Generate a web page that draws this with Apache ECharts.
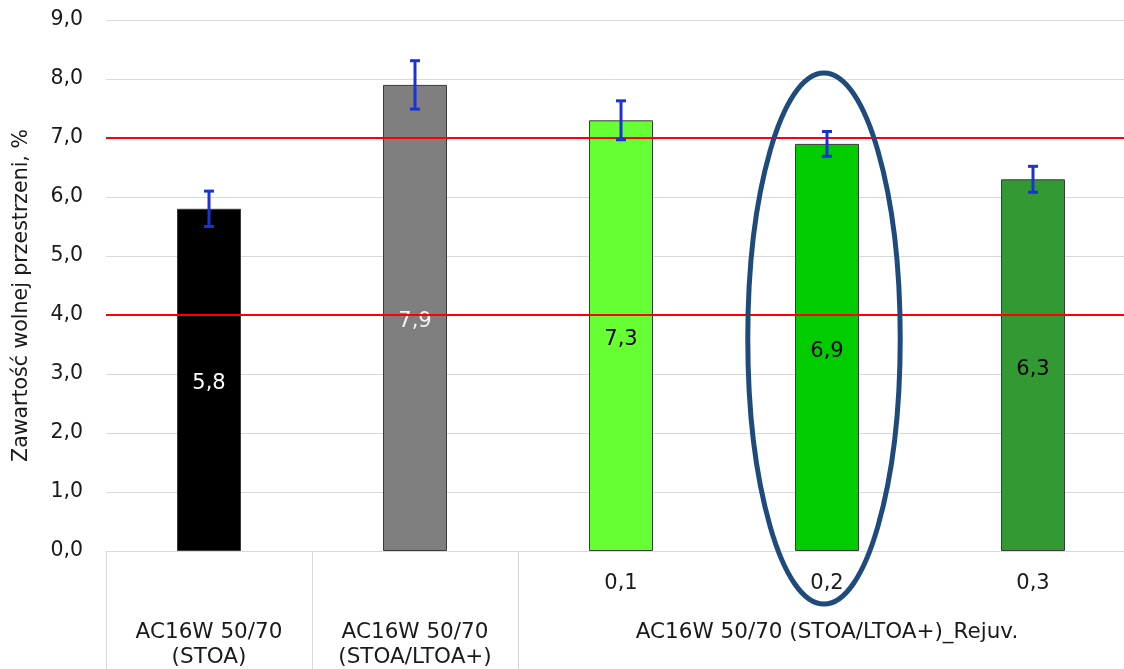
<!DOCTYPE html>
<html>
<head>
<meta charset="utf-8">
<script src="https://cdn.jsdelivr.net/npm/echarts@6/dist/echarts.min.js"></script>
<style>
  html, body { margin: 0; padding: 0; background: #fff; }
  #chart { width: 1124px; height: 669px; }
</style>
</head>
<body>
<div id="chart"></div>
<script>
// Air void content of AC16W 50/70 mixes (STOA, STOA/LTOA+ and rejuvenated variants)
const categories = ['STOA', 'STOA/LTOA+', 'Rejuv 0,1', 'Rejuv 0,2', 'Rejuv 0,3'];
const subLabels = ['', '', '0,1', '0,2', '0,3'];
const groupLabels = ['AC16W 50/70\n(STOA)', 'AC16W 50/70\n(STOA/LTOA+)', '', 'AC16W 50/70 (STOA/LTOA+)_Rejuv.', ''];
const voidContent = [5.8, 7.9, 7.3, 6.9, 6.3];
const stdDev = [0.3, 0.41, 0.33, 0.21, 0.22];
const barColors = ['#000000', '#7f7f7f', '#66ff33', '#00cc00', '#339933'];
const labelColors = ['#ffffff', '#f2f2f2', '#000000', '#000000', '#000000'];
const limitLines = [7.0, 4.0];
const yTicks = [0, 1, 2, 3, 4, 5, 6, 7, 8, 9];

// highlighted category and its ring extent (value units / category fraction)
const ringCategory = 3;
const ringTop = 8.1;
const ringBottom = -0.9;
const ringWidthFrac = 0.74;

const FONT = 'DejaVu Sans';
const fmt = v => v.toFixed(1).replace('.', ',');

const chart = echarts.init(document.getElementById('chart'), null, { renderer: 'canvas' });

const option = {
  animation: false,
  backgroundColor: '#ffffff',
  textStyle: { fontFamily: FONT },
  grid: { left: 106, right: -12, top: 20, bottom: 118, containLabel: false, outerBoundsMode: 'none' },
  xAxis: [
    {
      type: 'category',
      data: categories,
      boundaryGap: true,
      axisLine: { show: true, lineStyle: { color: '#d9d9d9', width: 1 } },
      axisTick: {
        show: true,
        length: 118,
        interval: (index) => index <= 2,
        lineStyle: { color: '#d9d9d9', width: 1 }
      },
      axisLabel: {
        interval: 0,
        margin: 22,
        fontSize: 21,
        color: '#1a1a1a',
        fontFamily: FONT,
        formatter: (v, i) => subLabels[i]
      }
    },
    {
      type: 'category',
      data: categories,
      position: 'bottom',
      boundaryGap: true,
      axisLine: { show: false },
      axisTick: { show: false },
      splitLine: { show: false },
      axisLabel: {
        interval: 0,
        margin: 69,
        fontSize: 21.5,
        lineHeight: 25,
        color: '#1a1a1a',
        fontFamily: FONT,
        formatter: (v, i) => groupLabels[i]
      }
    }
  ],
  yAxis: {
    type: 'value',
    min: yTicks[0],
    max: yTicks[yTicks.length - 1],
    interval: 1,
    name: 'Zawartość wolnej przestrzeni, %',
    nameLocation: 'middle',
    nameGap: 74,
    nameTextStyle: { fontSize: 20.5, color: '#1a1a1a', fontFamily: FONT, padding: [0, 20, 0, 0] },
    axisLine: { show: false },
    axisTick: { show: false },
    axisLabel: { fontSize: 20.5, color: '#1a1a1a', margin: 23, formatter: v => fmt(v), fontFamily: FONT },
    splitLine: { lineStyle: { color: '#d9d9d9', width: 1 } }
  },
  series: [
    {
      type: 'bar',
      barWidth: 64,
      data: voidContent.map((v, i) => ({
        value: v,
        itemStyle: { color: barColors[i], borderColor: '#3a3a3a', borderWidth: 1 },
        label: { color: labelColors[i] }
      })),
      label: {
        show: true,
        position: 'inside',
        offset: [0, 4],
        fontSize: 21,
        fontFamily: FONT,
        formatter: p => fmt(p.value)
      },
      markLine: {
        silent: true,
        symbol: 'none',
        label: { show: false },
        lineStyle: { color: '#ff0000', width: 2, type: 'solid' },
        data: limitLines.map(y => ({ yAxis: y }))
      },
      z: 2
    },
    {
      type: 'custom',
      name: 'error',
      data: voidContent.map((v, i) => [i, v - stdDev[i], v + stdDev[i]]),
      renderItem: (params, api) => {
        const x = api.value(0);
        const lo = api.coord([x, api.value(1)]);
        const hi = api.coord([x, api.value(2)]);
        const cap = 5;
        const style = { stroke: '#1a33d9', lineWidth: 3 };
        return {
          type: 'group',
          children: [
            { type: 'line', shape: { x1: hi[0], y1: hi[1], x2: lo[0], y2: lo[1] }, style },
            { type: 'line', shape: { x1: hi[0] - cap, y1: hi[1], x2: hi[0] + cap, y2: hi[1] }, style },
            { type: 'line', shape: { x1: lo[0] - cap, y1: lo[1], x2: lo[0] + cap, y2: lo[1] }, style }
          ]
        };
      },
      z: 5
    }
  ]
};

chart.setOption(option);

// ring around the highlighted bar, placed through the axes
function drawRing() {
  const top = chart.convertToPixel({ gridIndex: 0 }, [ringCategory, ringTop]);
  const bottom = chart.convertToPixel({ gridIndex: 0 }, [ringCategory, ringBottom]);
  const left = chart.convertToPixel({ xAxisIndex: 0 }, ringCategory - 0.5);
  const right = chart.convertToPixel({ xAxisIndex: 0 }, ringCategory + 0.5);
  const bandWidth = right - left;
  chart.setOption({
    graphic: [{
      type: 'ellipse',
      z: 100,
      silent: true,
      shape: {
        cx: top[0] - 3,
        cy: (top[1] + bottom[1]) / 2,
        rx: bandWidth * ringWidthFrac / 2,
        ry: (bottom[1] - top[1]) / 2
      },
      style: { fill: 'none', stroke: '#1f4a7c', lineWidth: 5 }
    }]
  });
}
drawRing();
</script>
</body>
</html>
